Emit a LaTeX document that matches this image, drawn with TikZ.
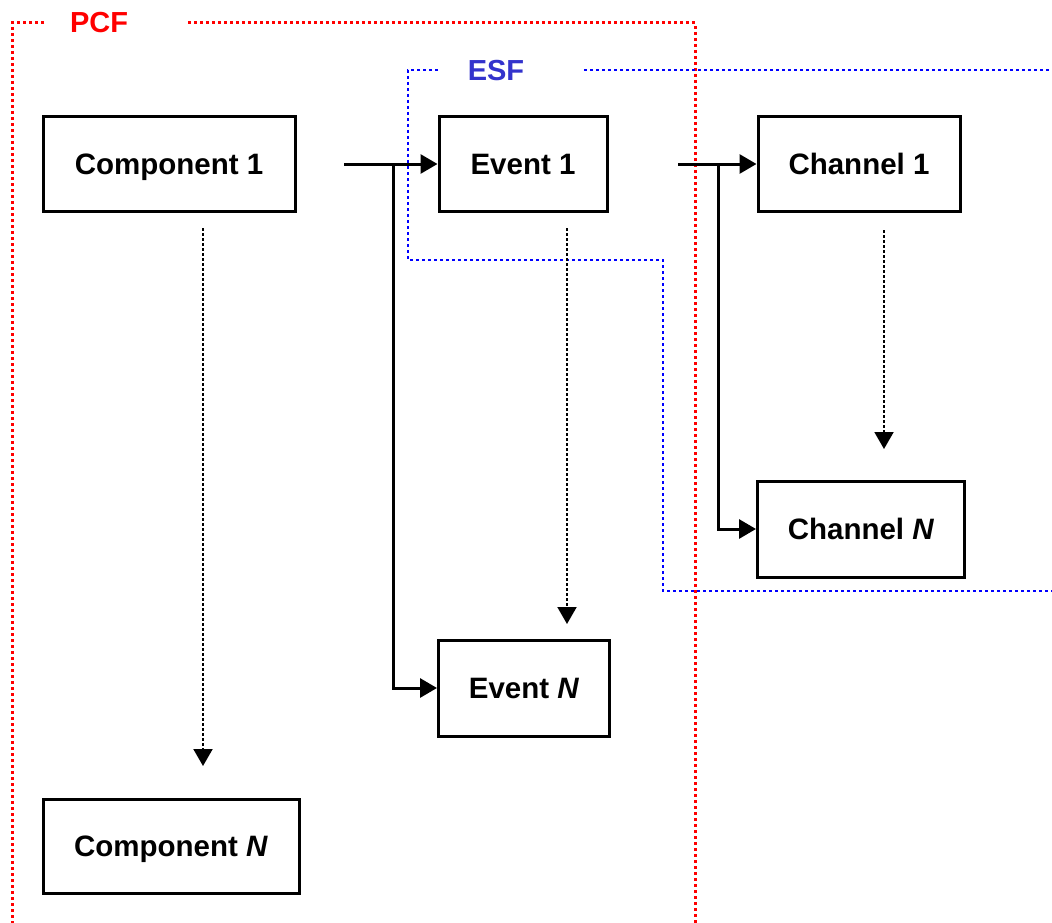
\documentclass[tikz,border=0pt]{standalone}
\usepackage{fontspec}
\setmainfont{Liberation Sans}
\usetikzlibrary{positioning, arrows.meta, calc}
\definecolor{pcfred}{HTML}{FF0000}
\definecolor{esfblue}{HTML}{0000FF}
\definecolor{esftext}{HTML}{3333CC}

\begin{document}
\begin{tikzpicture}[x=1pt, y=-1pt,
          box/.style={draw=black, line width=3pt, fill=white, font=\fontsize{29.5}{32}\selectfont\bfseries, minimum height=94pt, inner sep=0pt, text height=21pt, text depth=0pt, align=center},
          link/.style={line width=3pt, -{Triangle[length=17pt,width=19pt]}},
          hint/.style={line width=2pt, dash pattern=on 3pt off 2pt, -{Triangle[length=17pt,width=19pt]}},
          pcfline/.style={draw=pcfred, line width=3pt, dash pattern=on 3pt off 3pt},
          esfline/.style={draw=esfblue, line width=2.5pt, dash pattern=on 3pt off 3pt},
          tag/.style={font=\fontsize{29}{32}\selectfont\bfseries, inner sep=0pt, text height=21pt, text depth=0pt}]
        \useasboundingbox (0,0) rectangle (1052,923);
        % frames
        \draw[pcfline] (44,23) -- (12,23) -- (12,923);
        \draw[pcfline] (188,23) -- (695,23) -- (695,923);
        \node[tag, text=pcfred] (pcf) at (99,22) {PCF};
        \draw[esfline] (438,70) -- (408,70) -- (408,260) -- (663,260) -- (663,591) -- (1052,591);
        \draw[esfline] (584,70) -- (1052,70);
        \node[tag, text=esftext] (esf) at (496,70) {ESF};
        % boxes
        \node[box, minimum width=252pt] (comp1) at (169,164) {Component 1};
        \node[box, minimum width=168pt] (ev1) at (523,164) {Event 1};
        \node[box, minimum width=202pt] (ch1) at (859,164) {Channel 1};
        \node[box, minimum width=207pt, minimum height=96pt] (chN) at (861,529) {Channel \textit{N}};
        \node[box, minimum width=171pt, minimum height=96pt] (evN) at (524,688) {Event \textit{N}};
        \node[box, minimum width=256pt] (compN) at (171,846) {Component \textit{N}};
        % connector ends
        \coordinate (compout) at (344,164);
        \coordinate (compfork) at (393,164);
        \coordinate (evout) at (678,164);
        \coordinate (evfork) at (718,164);
        \draw[link] (compout) -- (ev1.west);
        \draw[link] (compfork) |- (evN.west);
        \draw[link] (evout) -- (ch1.west);
        \draw[link] (evfork) |- (chN.west);
        % dotted hints
        \coordinate (compa) at (203,228);
        \coordinate (compb) at (203,766);
        \coordinate (eva) at (567,228);
        \coordinate (evb) at (567,624);
        \coordinate (cha) at (884,230);
        \coordinate (chb) at (884,449);
        \draw[hint] (compa) -- (compb);
        \draw[hint] (eva) -- (evb);
        \draw[hint] (cha) -- (chb);
      \end{tikzpicture}
\end{document}
